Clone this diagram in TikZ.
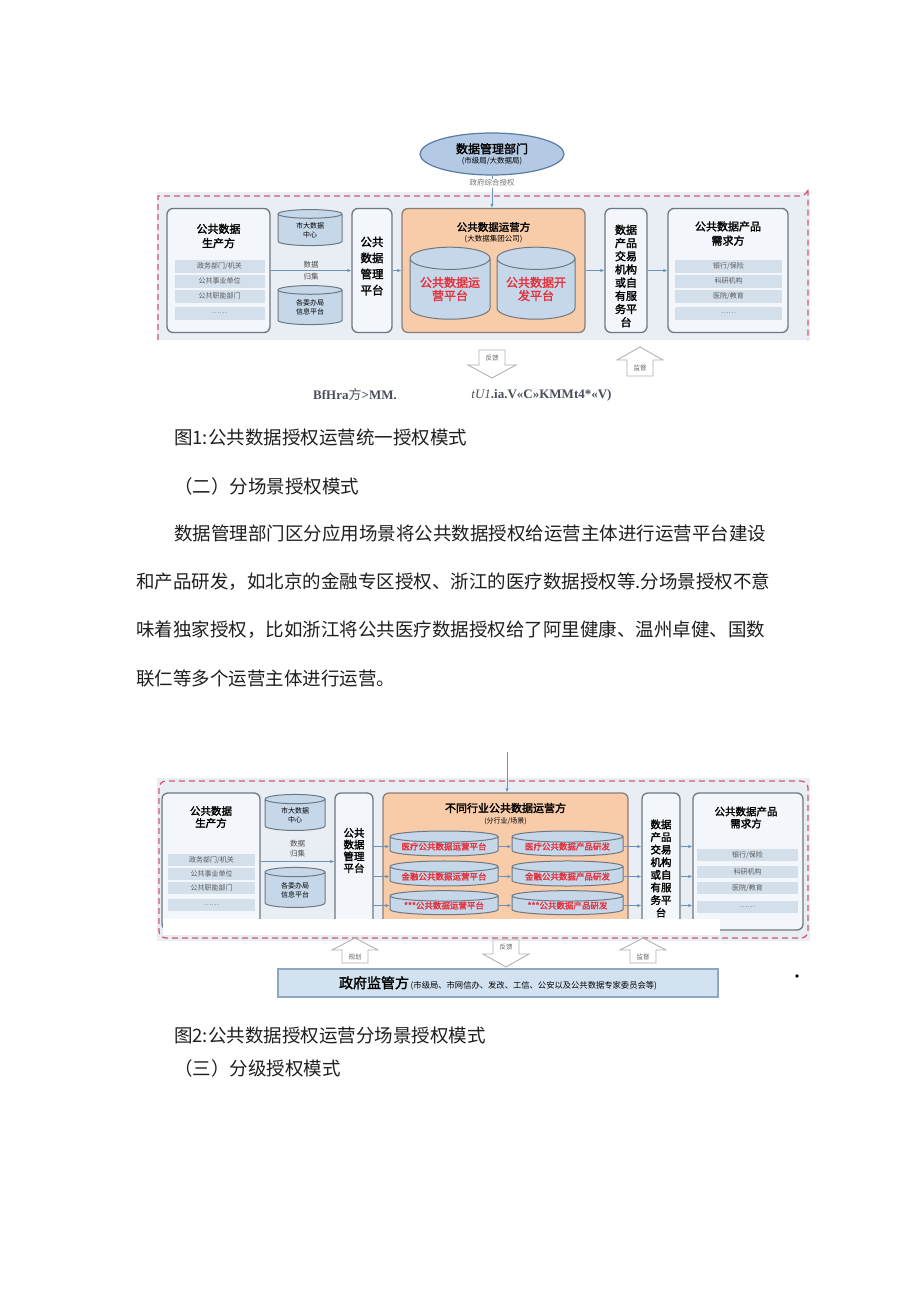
\documentclass[tikz,border=0pt]{standalone}
\usepackage{fontspec}
\setmainfont{Noto Sans CJK SC}
\newfontfamily\hei[FakeBold=2]{Noto Sans CJK SC}
\newfontfamily\tnr{Liberation Serif}
\usetikzlibrary{shapes.geometric,arrows.meta}
\newcommand{\fsz}[2][1.25]{\fontsize{#2}{#1\dimexpr #2pt\relax}\selectfont}
\definecolor{bgblue}{HTML}{E9EEF4}
\definecolor{boxline}{HTML}{6E7882}
\definecolor{boxfill}{HTML}{F3F6FA}
\definecolor{band}{HTML}{D3DFEB}
\definecolor{cylfill}{HTML}{C6D7E9}
\definecolor{opfill}{HTML}{F8CBA9}
\definecolor{oplin}{HTML}{8C7F78}
\definecolor{redtxt}{HTML}{E5323C}
\definecolor{dashred}{HTML}{D25A6E}
\definecolor{flowblue}{HTML}{6F93B8}
\definecolor{ellfill}{HTML}{B4CAE4}
\definecolor{ellline}{HTML}{5B7BA5}
\definecolor{govfill}{HTML}{D3E2F0}
\definecolor{govline}{HTML}{8FA8C0}
\definecolor{garb}{HTML}{4A4F5C}
\tikzset{
	box/.style={draw=boxline, line width=1.3pt, fill=boxfill, rounded corners=6pt, inner sep=0},
	drum/.style={cylinder, shape border rotate=90, draw=boxline, line width=1pt, fill=cylfill, inner sep=0, align=center, font={\fsz{7}}},
	band/.style={fill=band, inner sep=0, font={\fsz{7}}, text=black!65},
	title/.style={font={\hei\fsz[1.3]{11}}, align=center, inner sep=0},
	vtext/.style={font={\hei\fsz[1.2]{11}}, align=center, inner sep=0},
	flow/.style={draw=flowblue, line width=0.9pt, -{Latex[length=4pt,width=3.5pt]}},
	blockarr/.style={draw=black!30, line width=0.9pt, fill=white},
	tiny/.style={font={\fsz{6.5}}, text=black!60, inner sep=0},
	body/.style={anchor=west, inner sep=0, font={\fsz{18.5}}, text=black!88}
}
\begin{document}
\begin{tikzpicture}[x=1pt, y=-1pt]
	\useasboundingbox[fill=white] (0,0) rectangle (920,1301);

	% figure 1
	\fill[bgblue] (157,192) rectangle (810,340);
	\draw[dashred, line width=1.3pt, dash pattern=on 6pt off 4pt] (158,340) -- (158,196) -- (800,196) arc (90:0:8) -- (808,340);
	\node[ellipse, draw=ellline, line width=1.2pt, fill=ellfill, minimum width=144, minimum height=42, inner sep=0, align=center] (mgmtA) at (492,154)
		{{\hei\fsz{12}数据管理部门}\\[-2pt]{\fsz{7.5}(市级局/大数据局)}};

	\node[box, minimum width=103, minimum height=124] (prodA) at (218.5,270.5) {};
	\node[title] (prodtA) at (218.5,236) {公共数据\\生产方};
	\foreach \t/\y [count=\i] in {{政务部门/机关}/266, {公共事业单位}/281, {公共职能部门}/296, {……}/313}
		\node[band, minimum width=90, minimum height=13] (prodA\i) at (219.5,\y) {\t};
	\node[drum, aspect=0.31, minimum width=64, minimum height=36] (bigA) at (310,230) {市大数据\\中心};
	\node[drum, aspect=0.31, minimum width=64, minimum height=39] (weiA) at (310,307.5) {各委办局\\信息平台};
	\node[box, minimum width=40, minimum height=124] (platA) at (372,270.5) {};
	\node[vtext, font={\hei\fsz[1.4]{11.5}}] at (372,266) {公共\\数据\\管理\\平台};

	\node[box, draw=oplin, fill=opfill, minimum width=183, minimum height=124] (opA) at (493.5,270.5) {};
	\node[title, font={\hei\fsz{10.5}}] at (493.5,227) {公共数据运营方};
	\node[font={\fsz{7.5}}, inner sep=0] at (493.5,239) {(大数据集团公司)};
	\node[drum, aspect=0.37, minimum width=80, minimum height=72, font={\hei\fsz[1.1]{12}}, text=redtxt] (runA) at (450,289) {公共数据运\\营平台};
	\node[drum, aspect=0.37, minimum width=78, minimum height=72, font={\hei\fsz[1.1]{12}}, text=redtxt] (devA) at (536,289) {公共数据开\\发平台};

	\node[box, minimum width=42, minimum height=124] (tradeA) at (626,270.5) {};
	\node[vtext, font={\hei\fsz[1.2]{11}}] at (626,276) {数据\\产品\\交易\\机构\\或自\\有服\\务平\\台};
	\node[box, minimum width=120, minimum height=124] (demA) at (728,270.5) {};
	\node[title] at (728,233.5) {公共数据产品\\需求方};
	\foreach \t/\y [count=\i] in {{银行/保险}/266, {科研机构}/281, {医院/教育}/296, {……}/313}
		\node[band, minimum width=107, minimum height=13] (demA\i) at (728.5,\y) {\t};

	\draw[flow] (mgmtA.south) -- (mgmtA.south |- opA.north) node[pos=.23, fill=white, inner sep=1pt, font={\fsz{7.5}}, text=black!55] {政府综合授权};
	\draw[flow] (prodA) -- (platA) node[midway, align=center, font={\fsz[1.6]{7.5}}, text=black!70] {数据\\归集};
	\draw[flow] (platA) -- (opA);
	\draw[flow] (opA) -- (tradeA);
	\draw[flow] (tradeA) -- (demA);

	\draw[blockarr] (479,350) -- ++(26,0) -- ++(0,15) -- ++(11,0) -- (492,378) -- ++(-24,-13) -- ++(11,0) -- cycle;
	\node[tiny] at (492,358) {反馈};
	\draw[blockarr] (640,347) -- ++(23,13) -- ++(-10,0) -- ++(0,16) -- ++(-26,0) -- ++(0,-16) -- ++(-10,0) -- cycle;
	\node[tiny] at (640,368) {监督};

	\node[font={\tnr\bfseries\fsz{13}}, text=garb, inner sep=0] (garbA) at (355,395) {BfHra{\normalfont\fsz{13}方}>MM.};
	\node[font={\tnr\bfseries\fsz{13}}, text=garb, inner sep=0] (garbB) at (541.5,395) {{\mdseries\itshape tU1}.ia.V«C»KMMt4*«V)};

	% text
	\node[body] at (174,437) {图1:公共数据授权运营统一授权模式};
	\node[body] at (174,486) {（二）分场景授权模式};
	\node[body] at (174,533) {数据管理部门区分应用场景将公共数据授权给运营主体进行运营平台建设};
	\node[body] at (136,582) {和产品研发，如北京的金融专区授权、浙江的医疗数据授权等.分场景授权不意};
	\node[body] at (136,630) {味着独家授权，比如浙江将公共医疗数据授权给了阿里健康、温州卓健、国数};
	\node[body] at (136,678) {联仁等多个运营主体进行运营。};

	% figure 2
	\fill[bgblue] (157,778) rectangle (810,941);
	\draw[dashred, line width=1.3pt, dash pattern=on 6pt off 4pt, rounded corners=7pt] (159,781) rectangle (808,938);
	\coordinate (topB) at (507,752);

	\node[box, minimum width=98, minimum height=137] (prodB) at (211,861.5) {};
	\node[title, font={\hei\fsz[1.15]{10.5}}] at (211,817) {公共数据\\生产方};
	\foreach \t/\y [count=\i] in {{政务部门/机关}/860, {公共事业单位}/874, {公共职能部门}/888, {……}/905}
		\node[band, minimum width=87, minimum height=12] (prodB\i) at (211.5,\y) {\t};
	\node[drum, aspect=0.33, minimum width=60, minimum height=36] (bigB) at (295,815) {市大数据\\中心};
	\node[drum, aspect=0.33, minimum width=60, minimum height=40] (weiB) at (295,890) {各委办局\\信息平台};
	\node[box, minimum width=38, minimum height=137] (platB) at (354,861.5) {};
	\node[vtext, font={\hei\fsz[1.12]{10.5}}] at (354,850.5) {公共\\数据\\管理\\平台};

	\node[box, draw=oplin, fill=opfill, minimum width=245, minimum height=137] (opB) at (505.5,861.5) {};
	\node[title] at (505.5,808) {不同行业公共数据运营方};
	\node[font={\fsz{7}}, inner sep=0] at (505.5,821) {(分行业/场景)};
	\foreach \k/\y [count=\i] in {医疗/846.5, 金融/876.5, ***/905.5} {
		\node[drum, aspect=0.13, minimum width=108, minimum height=24, font={\hei\fsz{8.5}}, text=redtxt] (runB\i) at (444,\y) {\k 公共数据运营平台};
		\node[drum, aspect=0.13, minimum width=111, minimum height=24, font={\hei\fsz{8.5}}, text=redtxt] (devB\i) at (567.5,\y) {\k 公共数据产品研发};
	}
	\node[box, minimum width=38, minimum height=137] (tradeB) at (661,861.5) {};
	\node[vtext, font={\hei\fsz[1.2]{10.5}}] at (661,868.5) {数据\\产品\\交易\\机构\\或自\\有服\\务平\\台};
	\node[box, minimum width=110, minimum height=137] (demB) at (748,861.5) {};
	\node[title, font={\hei\fsz[1.15]{10.5}}] at (746,817.5) {公共数据产品\\需求方};
	\foreach \t/\y [count=\i] in {{银行/保险}/855, {科研机构}/872, {医院/教育}/888, {……}/907}
		\node[band, minimum width=101, minimum height=12] (demB\i) at (747.5,\y) {\t};

	\draw[flow] (topB) -- (topB |- opB.north);
	\draw[flow] (prodB) -- (platB) node[midway, above=1pt, align=center, font={\fsz[1.3]{7.5}}, text=black!70] {数据\\归集};
	\foreach \i in {1,2,3} {
		\draw[flow] (platB.east |- runB\i) -- (runB\i);
		\draw[flow] (runB\i) -- (devB\i);
		\draw[flow] (devB\i) -- (devB\i -| tradeB.west);
		\draw[flow] (tradeB.east |- devB\i) -- (demB.west |- devB\i);
	}

	\fill[white] (163,919) rectangle (720,935);

	\node[draw=govline, line width=1.2pt, fill=govfill, minimum width=440, minimum height=28, inner sep=0] (govB) at (498,983)
		{{\hei\fsz{14}政府监管方}\,{\fsz{8.3}(市级局、市网信办、发改、工信、公安以及公共数据专家委员会等)}};
	\foreach \x/\t in {355/规划, 643/监督} {
		\draw[blockarr] (\x,938) -- ++(23,12) -- ++(-10,0) -- ++(0,13) -- ++(-26,0) -- ++(0,-13) -- ++(-10,0) -- cycle;
		\node[tiny] at (\x,957) {\t};
	}
	\draw[blockarr] (493,940) -- ++(26,0) -- ++(0,14) -- ++(10,0) -- (506,967) -- ++(-23,-13) -- ++(10,0) -- cycle;
	\node[tiny] at (506,947.5) {反馈};
	\fill[black] (797,976) circle (1.8);

	\node[body] at (174,1035) {图2:公共数据授权运营分场景授权模式};
	\node[body] at (174,1068) {（三）分级授权模式};
\end{tikzpicture}
\end{document}
